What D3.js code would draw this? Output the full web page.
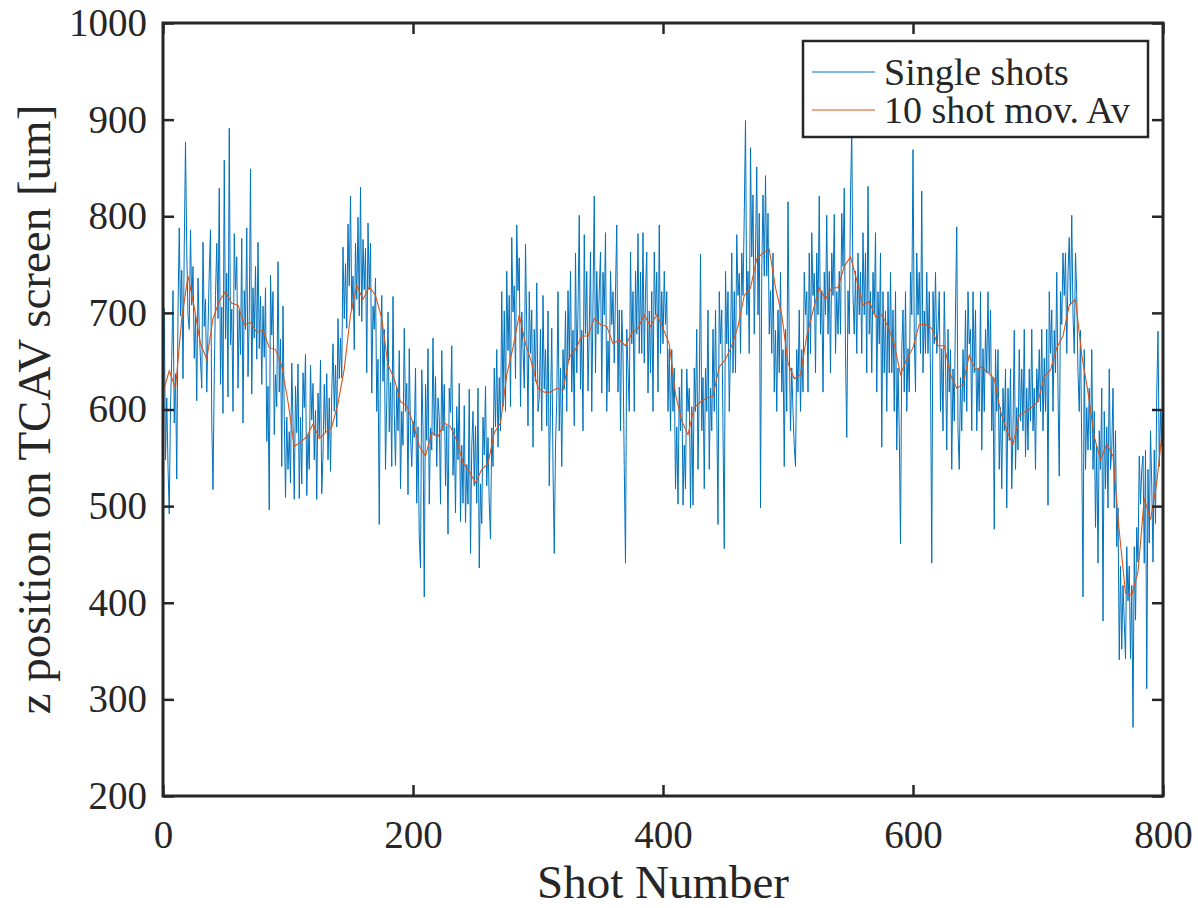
<!DOCTYPE html>
<html lang="en">
<head>
<meta charset="UTF-8">
<title>z position on TCAV screen</title>
<script src="https://d3js.org/d3.v7.min.js"></script>
<style>
  body { margin: 0; background: #fff; }
  svg text { font-family: "Liberation Serif", "Times New Roman", serif; fill: #262626; }
</style>
</head>
<body>
<svg id="chart" width="1198" height="908"></svg>
<script>
// single shot z positions, shots 1..800
const singleShots = [
  705,548,612,541,492,604,653,723,586,637,528,702,788,697,744,632,768,877,764,697,
  683,786,708,748,653,697,609,736,683,651,622,773,686,714,618,681,742,786,587,517,
  636,718,772,694,829,626,706,596,858,673,741,613,891,667,704,598,782,724,758,622,
  703,657,777,586,723,683,788,634,696,849,616,726,674,748,652,773,663,717,626,707,
  654,726,567,624,496,739,677,722,574,636,603,753,618,673,541,707,593,509,592,538,
  577,524,648,586,507,624,576,647,508,592,523,638,602,657,511,574,538,646,589,627,
  548,599,507,617,572,651,513,553,626,577,637,548,612,536,617,668,598,646,582,694,
  632,674,633,768,694,751,684,792,728,821,703,738,662,772,714,799,697,830,691,776,
  724,767,638,793,724,772,617,707,683,736,598,652,481,657,718,629,683,538,609,701,
  577,628,541,717,596,542,623,578,661,518,598,563,684,598,627,512,663,573,541,588,
  571,643,503,582,468,436,641,581,406,626,568,663,502,581,558,674,573,634,541,612,
  592,502,661,578,626,521,583,471,622,597,666,532,581,493,603,548,627,484,563,503,
  604,483,543,502,621,451,562,598,521,583,503,622,436,523,482,592,553,624,521,571,
  503,466,581,541,643,582,662,561,633,578,722,603,702,598,743,661,718,603,778,701,
  728,632,791,723,757,603,701,663,622,771,681,583,722,658,703,561,683,629,731,598,
  612,683,578,718,621,662,583,702,521,603,684,538,451,562,611,722,578,643,541,662,
  621,702,598,723,651,743,618,682,583,762,638,701,801,621,682,578,781,678,743,619,
  682,763,598,712,821,638,743,678,722,763,617,742,698,783,598,671,618,743,688,722,
  648,722,791,618,703,578,703,658,541,441,683,642,598,763,668,722,598,743,678,782,
  658,742,658,783,648,722,763,617,702,638,722,598,763,698,742,618,791,658,722,668,
  743,688,722,598,663,578,662,598,643,518,582,502,623,578,642,501,563,518,642,598,
  622,498,603,501,643,598,683,538,622,761,578,633,518,643,598,703,538,622,578,683,
  598,703,598,481,722,668,703,578,456,743,668,722,598,663,762,638,722,638,781,718,
  741,658,762,718,801,899,698,743,658,871,758,822,678,763,851,698,803,498,743,822,
  738,842,738,803,678,723,658,762,618,682,598,703,638,742,618,662,541,683,598,815,
  668,578,643,598,562,541,662,618,703,598,662,618,742,698,722,618,762,658,783,718,
  741,638,762,698,821,678,723,618,742,698,801,678,743,638,762,718,802,658,722,678,
  743,678,803,748,829,658,571,723,678,822,889,718,678,743,658,762,698,742,658,783,
  698,762,638,831,678,722,638,742,698,783,618,722,668,762,561,722,638,702,598,722,
  638,742,638,703,598,722,558,643,578,461,662,703,618,722,598,663,618,742,698,869,
  678,618,762,698,742,658,826,638,702,658,742,658,722,638,441,722,668,742,658,683,
  722,598,663,578,722,648,558,683,618,662,538,642,588,703,789,578,538,633,578,662,
  608,703,598,722,668,683,578,722,638,703,578,643,598,722,558,663,598,683,638,722,
  638,703,578,633,476,662,598,662,538,602,518,622,578,642,498,622,568,642,518,582,
  682,538,602,558,662,588,642,578,683,551,622,558,642,588,683,578,622,538,642,608,
  662,598,683,578,653,598,683,501,722,658,703,598,682,638,742,618,531,722,688,762,
  718,762,658,742,778,708,801,698,658,762,718,638,598,682,558,406,662,538,602,558,
  622,558,662,538,598,478,562,441,578,538,622,381,598,518,582,498,642,538,558,622,
  498,578,458,498,341,438,352,418,381,342,458,402,438,342,418,271,458,382,478,442,
  552,502,538,552,441,558,311,538,462,578,522,442,558,482,618,681,541,598,562,642
];

// 10 shot moving average, read every 5 shots (shot 0..800)
const movAvStep = 5;
const movAv = [
  618,640,622,694,738,706,668,652,694,712,
  722,710,708,688,690,680,682,664,662,645,
  608,562,566,572,585,570,576,582,606,642,
  698,728,714,727,718,694,646,632,608,604,
  586,562,552,576,572,586,582,568,545,536,
  524,538,544,576,586,636,664,698,668,648,
  622,618,618,622,620,654,662,676,676,694,
  688,686,668,672,666,679,684,698,686,698,
  684,668,616,588,574,602,608,612,614,644,
  652,666,686,718,726,756,762,766,726,698,
  648,632,636,676,702,726,714,726,726,748,
  758,734,708,712,696,698,686,668,636,652,
  664,688,688,684,666,666,636,622,626,656,
  641,644,638,632,598,578,564,594,598,602,
  608,634,641,664,676,708,714,656,618,572,
  548,564,552,474,410,408,432,508,486,524,
  585
];

const xTicks = [0, 200, 400, 600, 800];
const yTicks = [200, 300, 400, 500, 600, 700, 800, 900, 1000];
const seriesNames = ["Single shots", "10 shot mov. Av"];
const seriesColors = ["#0072BD", "#D95319"];

const width = 1198, height = 908;
const margin = {top: 23, right: 35, bottom: 112, left: 163};
const plotW = width - margin.left - margin.right;
const plotH = height - margin.top - margin.bottom;
const axisColor = "#262626";

const svg = d3.select("#chart");
svg.append("rect").attr("width", width).attr("height", height).attr("fill", "#fff");

const g = svg.append("g").attr("transform", `translate(${margin.left},${margin.top})`);

const x = d3.scaleLinear().domain([0, 800]).range([0, plotW]);
const y = d3.scaleLinear().domain([200, 1000]).range([plotH, 0]);

g.append("clipPath").attr("id", "plot-clip")
  .append("rect").attr("width", plotW).attr("height", plotH);

// lines
const shotLine = d3.line().x((d, i) => x(i + 1)).y(d => y(d));
const avLine = d3.line().x((d, i) => x(i * movAvStep)).y(d => y(d));

const lines = g.append("g").attr("clip-path", "url(#plot-clip)");
lines.append("path")
  .datum(singleShots)
  .attr("fill", "none")
  .attr("stroke", seriesColors[0])
  .attr("stroke-width", 1)
  .attr("d", shotLine);
lines.append("path")
  .datum(movAv)
  .attr("fill", "none")
  .attr("stroke", seriesColors[1])
  .attr("stroke-width", 1.1)
  .attr("d", avLine);

// axes, ticks pointing inward on all four sides
const tickLen = 11;
function styleAxis(sel) {
  sel.select(".domain").remove();
  sel.selectAll(".tick line").attr("stroke", axisColor).attr("stroke-width", 2.5);
  sel.selectAll(".tick text").attr("font-size", 39).attr("fill", axisColor)
    .style("font-family", '"Liberation Serif", "Times New Roman", serif');
}

g.append("g").attr("transform", `translate(0,${plotH})`)
  .call(d3.axisBottom(x).tickValues(xTicks).tickSize(-tickLen).tickPadding(24).tickFormat(d3.format("d")))
  .call(styleAxis);
g.append("g")
  .call(d3.axisTop(x).tickValues(xTicks).tickSize(-tickLen).tickFormat(""))
  .call(styleAxis);
g.append("g")
  .call(d3.axisLeft(y).tickValues(yTicks).tickSize(-tickLen).tickPadding(16).tickFormat(d3.format("d")))
  .call(styleAxis);
g.append("g").attr("transform", `translate(${plotW},0)`)
  .call(d3.axisRight(y).tickValues(yTicks).tickSize(-tickLen).tickFormat(""))
  .call(styleAxis);

g.append("rect")
  .attr("width", plotW).attr("height", plotH)
  .attr("fill", "none")
  .attr("stroke", axisColor)
  .attr("stroke-width", 3);

// axis labels
svg.append("text")
  .attr("x", margin.left + plotW / 2)
  .attr("y", 898)
  .attr("text-anchor", "middle")
  .attr("font-size", 47)
  .text("Shot Number");

svg.append("text")
  .attr("transform", `translate(50,${margin.top + plotH / 2}) rotate(-90)`)
  .attr("text-anchor", "middle")
  .attr("font-size", 47)
  .text("z position on TCAV screen [um]");

// legend
const legend = svg.append("g").attr("transform", "translate(803,41)");
legend.append("rect")
  .attr("width", 345).attr("height", 96)
  .attr("fill", "#fff")
  .attr("stroke", axisColor)
  .attr("stroke-width", 2.5);

const rows = legend.selectAll(".row")
  .data(seriesNames)
  .enter()
  .append("g")
  .attr("class", "row")
  .attr("transform", (d, i) => `translate(0,${31 + i * 38})`);

rows.append("line")
  .attr("x1", 9).attr("x2", 72)
  .attr("stroke", (d, i) => seriesColors[i])
  .attr("stroke-width", 1.2);

rows.append("text")
  .attr("x", 81)
  .attr("dy", "0.33em")
  .attr("font-size", 38)
  .text(d => d);
</script>
</body>
</html>
